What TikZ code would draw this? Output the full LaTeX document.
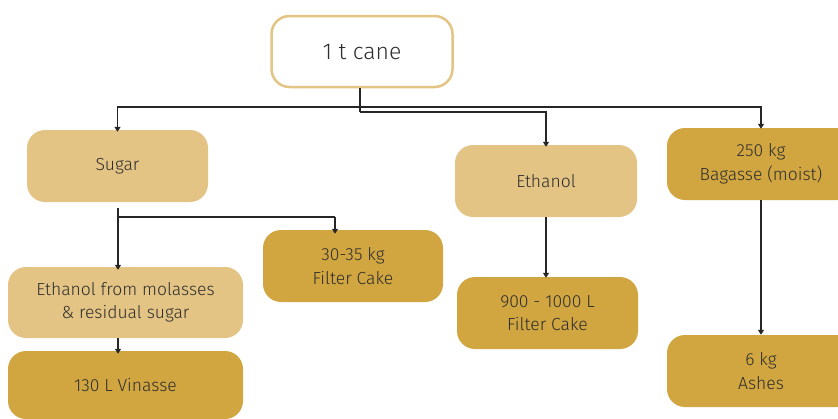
\documentclass[tikz,border=0pt]{standalone}
\usepackage{fontspec}
\setmainfont{Fira Sans}[UprightFont=* Light]
\usetikzlibrary{arrows.meta}
\definecolor{lightgold}{HTML}{E3C484}
\definecolor{darkgold}{HTML}{D1A640}
\definecolor{txt}{HTML}{2E2E2E}
\tikzset{
  box/.style={rectangle, rounded corners=18pt, draw=none, text=txt, align=center,
    font=\fontsize{17.5}{23.5}\selectfont, inner sep=0pt},
  lightbox/.style={box, fill=lightgold},
  darkbox/.style={box, fill=darkgold},
  arr/.style={draw=black!85, line width=1.3pt, -{Triangle[length=5pt,width=6pt]}},
  ln/.style={draw=black!85, line width=1.3pt},
}
\begin{document}
\begin{tikzpicture}[x=1pt,y=-1pt]
\useasboundingbox (0,0) rectangle (838,418);
\node[box, fill=white, draw=lightgold, line width=2.5pt, minimum width=181pt, minimum height=71pt,
  font=\fontsize{23}{27}\selectfont] (cane) at (362,51.5) {1 t cane};
\node[lightbox, minimum width=181pt, minimum height=72pt] (sugar) at (117.5,166) {Sugar};
\node[lightbox, minimum width=235pt, minimum height=71pt] (mol) at (125.5,302.5) {Ethanol from molasses\\\& residual sugar};
\node[darkbox, minimum width=180pt, minimum height=72pt] (fc1) at (353,266) {30-35 kg\\Filter Cake};
\node[darkbox, minimum width=235pt, minimum height=68pt] (vin) at (125.5,385) {130 L Vinasse};
\node[lightbox, minimum width=182pt, minimum height=72pt] (eth) at (546,181) {Ethanol};
\node[darkbox, minimum width=181pt, minimum height=72pt] (fc2) at (547.5,313) {900 - 1000 L\\Filter Cake};
\node[darkbox, minimum width=188pt, minimum height=72pt] (bag) at (761,164) {250 kg\\Bagasse (moist)};
\node[darkbox, minimum width=188pt, minimum height=72pt] (ash) at (761,371) {6 kg\\Ashes};

\coordinate (c0) at (360,88);
\coordinate (c1) at (360,107);
\coordinate (c2) at (360,112);
\draw[ln] (c0) -- (c2);
\draw[arr] (c1) -| ([yshift=-2pt]sugar.north);
\draw[arr] (c1) -| ([yshift=-1pt]bag.north);
\draw[arr] (c2) -| ([yshift=-2pt]eth.north);

\coordinate (s0) at (118,208);
\coordinate (s1) at (118,217);
\coordinate (s2) at (335,217);
\draw[arr] (s0) -- ([yshift=-3pt]mol.north -| s0);
\draw[ln] (s1) -- (s2);
\draw[arr] (s2) -- ([yshift=-4pt]fc1.north -| s2);

\draw[arr] (mol.south -| s0) -- ([yshift=-3pt]vin.north -| s0);
\draw[arr] (eth.south) -- ([yshift=-1pt]fc2.north -| eth.south);
\draw[arr] (bag.south) -- (ash.north);
\end{tikzpicture}
\end{document}
